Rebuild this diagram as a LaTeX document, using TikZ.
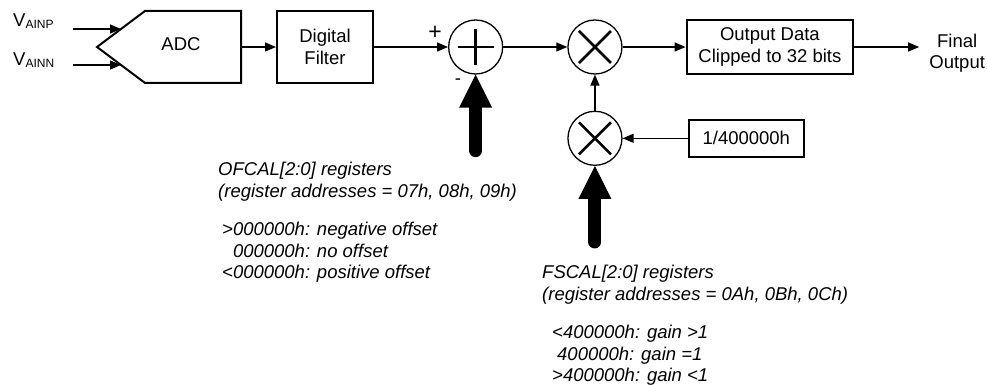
\documentclass[tikz,border=0pt]{standalone}
\usepackage{fontspec}
\setmainfont{Liberation Sans}
\usetikzlibrary{positioning,arrows.meta,calc}

\begin{document}
\begin{tikzpicture}[
        x=1pt, y=-1pt,
        font=\fontsize{18.5}{21.5}\selectfont,
        box/.style={
            draw, line width=2pt, align=center, inner sep=0pt
        },
        sumc/.style={circle, draw, line width=1.3pt, minimum size=54pt, inner sep=0pt},
        plus/.style={sumc, path picture={
            \draw[line width=2.6pt] (path picture bounding box.center) +(-18,0) -- +(18,0)
                (path picture bounding box.center) +(0,-18) -- +(0,18);}},
        times/.style={sumc, path picture={
            \draw[line width=2.6pt] (path picture bounding box.center) +(-16,-16) -- +(16,16)
                (path picture bounding box.center) +(-16,16) -- +(16,-16);}},
        lab/.style={inner sep=0pt},
        note/.style={font=\fontsize{18.5}{21.5}\selectfont\itshape, align=left, inner sep=0pt},
        ar/.style={-{Triangle[length=11pt, width=9pt]}, line width=1.3pt},
        bigar/.style={line width=13pt, line cap=round,
            -{Triangle[length=33pt, width=33pt, line width=0pt]}}
    ]
    \useasboundingbox (0,0) rectangle (987,385);

    %% ---- inputs and ADC ----
    \node[lab, anchor=base west] (vainp) at (13,27) {V\raisebox{-1.5pt}{\fontsize{12}{12}\selectfont AINP}};
    \node[lab, anchor=base west] (vainn) at (13,66) {V\raisebox{-1.5pt}{\fontsize{12}{12}\selectfont AINN}};

    \coordinate (adctip) at (97,47);
    \draw[line width=2pt] (145,11) -- (241,11) -- (241,83) -- (145,83) -- (adctip) -- cycle;
    \node (adc) at (181,44) {ADC};
    \coordinate (adcp) at ($(145,11)!0.5!(adctip)$);
    \coordinate (adcn) at ($(145,83)!0.5!(adctip)$);
    \coordinate (adcout) at (241,47);

    \coordinate (vp) at (73,29);
    \coordinate (vn) at (73,65);
    \draw[ar] (vp) -- (adcp);
    \draw[ar] (vn) -- (adcn);

    %% ---- main row: filter, offset, gain, clipping ----
    \node[box, minimum width=96pt, minimum height=72pt] (filter) at (325,47) {Digital\\ Filter};
    \node[plus, right=74pt of filter] (sum) {};
    \node[times, right=64pt of sum] (mul) {};
    \node[box, line width=2.6pt, minimum width=166pt, minimum height=54pt,
          right=63pt of mul] (outbox) {Output Data\\ Clipped to 32 bits};
    \node[align=center, inner xsep=10pt, inner ysep=0pt, right=65pt of outbox,
          yshift=-6pt] (final) {Final\\ Output};

    \draw[ar] (adcout) -- (filter);
    \draw[ar] (filter) -- (sum);
    \draw[ar] (sum) -- (mul);
    \draw[ar] (mul) -- (outbox);
    \draw[ar] (outbox.east) -- (outbox.east -| final.west);

    \node[lab, font=\fontsize{23}{23}\selectfont] (plussign) at (435,33) {+};
    \node[lab] (minussign) at (458,82) {-};

    %% ---- gain scaling ----
    \node[times, below=36pt of mul] (gain) {};
    \node[box, line width=2.4pt, minimum width=115pt, minimum height=37pt,
          right=65pt of gain] (scale) {1/400000h};

    \draw[ar] (scale) -- (gain);
    \draw[ar] (gain) -- (mul);

    %% ---- calibration registers ----
    \coordinate (ofin) at ($(sum.south)+(0,76)$);
    \coordinate (fsin) at ($(gain.south)+(0,76)$);
    \draw[bigar] (ofin) -- (sum.south);
    \draw[bigar] (fsin) -- (gain.south);

    \node[note, anchor=north west] (ofcal) at (218,162)
        {OFCAL[2:0] registers\\ (register addresses = 07h, 08h, 09h)};
    \node[note, below=21pt of ofcal.south west, anchor=north west, xshift=4pt] (ofcalval)
        {>000000h: negative offset\\ \phantom{>}000000h: no offset\\ <000000h: positive offset};

    \node[note, anchor=north west] (fscal) at (542,265)
        {FSCAL[2:0] registers\\ (register addresses = 0Ah, 0Bh, 0Ch)};
    \node[note, below=21pt of fscal.south west, anchor=north west, xshift=10pt] (fscalval)
        {<400000h: gain >1\\ \hspace*{5pt}400000h: gain =1\\ >400000h: gain <1};
\end{tikzpicture}
\end{document}
